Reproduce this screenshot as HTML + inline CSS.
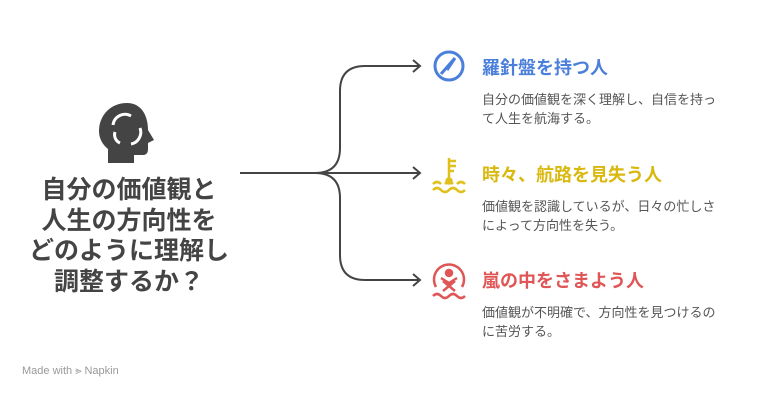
<!DOCTYPE html>
<html><head><meta charset="utf-8"><style>
body{margin:0;width:780px;height:400px;background:#fff;position:relative;overflow:hidden;font-family:"Liberation Sans","Noto Sans CJK JP",sans-serif}
.t{position:absolute;left:482px;font-size:18px;font-weight:bold;white-space:nowrap}
.d{position:absolute;left:482px;font-size:13px;color:#555;line-height:19px;white-space:nowrap}
.m{position:absolute;left:8px;width:242px;top:175px;text-align:center;font-size:25px;font-weight:bold;color:#444;line-height:30.5px}
</style></head><body>
<svg width="780" height="400" style="position:absolute;left:0;top:0">
<g fill="none" stroke="#444" stroke-width="2">
<path d="M240 173 H315 Q340 173 340 148 V91 Q340 66 365 66 H420"/>
<path d="M315 173 H420"/>
<path d="M315 173 Q340 173 340 198 V255 Q340 280 365 280 H420"/>
<path d="M413 60 L420 66 L413 72"/><path d="M413 167 L420 173 L413 179"/><path d="M413 274 L420 280 L413 286"/>
</g>
<path d="M127 103 C110 103 99 116 99 131 C99 139 103 145 108 149 V163 H134 V155 H143 C147 155 148 152 148 149 V143 L154 140 L148 130 C148 115 141 103 127 103Z" fill="#444"/>
<g fill="none" stroke="#fff" stroke-width="3"><path d="M113 125 A12 12 0 0 1 131 116"/><path d="M140 128 A12 12 0 0 1 131 144"/><path d="M120 143 A9 9 0 0 1 115 132"/></g>
<g stroke="#4a7fdc" stroke-width="3" fill="none"><circle cx="449" cy="66" r="14"/><path d="M441 74 L455 58 M455 58 L447 70"/></g>
<g stroke="#e0c01a" stroke-width="2.5" fill="none"><path d="M449 158 V181 M449 161 H456 M449 166 H456 M449 171 H454"/><circle cx="449" cy="181" r="2.5" fill="#e0c01a"/><path d="M433 184 q4 -4 8 0 M445 184 q4 -4 8 0 M457 184 q4 -4 8 0"/><path d="M433 190 q4 -4 8 0 t8 0 t8 0 t8 0"/></g>
<g stroke="#e05555" stroke-width="2.5" fill="none"><path d="M436 287 A15 15 0 1 1 462 287"/><circle cx="449" cy="273" r="3" fill="#e05555"/><path d="M441 278 L449 283 L457 278 M443 291 L455 281 M455 291 L443 281"/><path d="M433 296 q4 -4 8 0 t8 0 t8 0 t8 0"/></g>
</svg>
<div class="t" style="top:54px;color:#4a7fdc">羅針盤を持つ人</div>
<div class="d" style="top:90px">自分の価値観を深く理解し、自信を持っ<br>て人生を航海する。</div>
<div class="t" style="top:161px;color:#d9b80f">時々、航路を見失う人</div>
<div class="d" style="top:197px">価値観を認識しているが、日々の忙しさ<br>によって方向性を失う。</div>
<div class="t" style="top:267px;color:#e05555">嵐の中をさまよう人</div>
<div class="d" style="top:303px">価値観が不明確で、方向性を見つけるの<br>に苦労する。</div>
<div class="m">自分の価値観と<br>人生の方向性を<br>どのように理解し<br>調整するか？</div>
<div style="position:absolute;left:22px;top:365px;font-size:11px;color:#999">Made with ⪢ Napkin</div>
</body></html>
